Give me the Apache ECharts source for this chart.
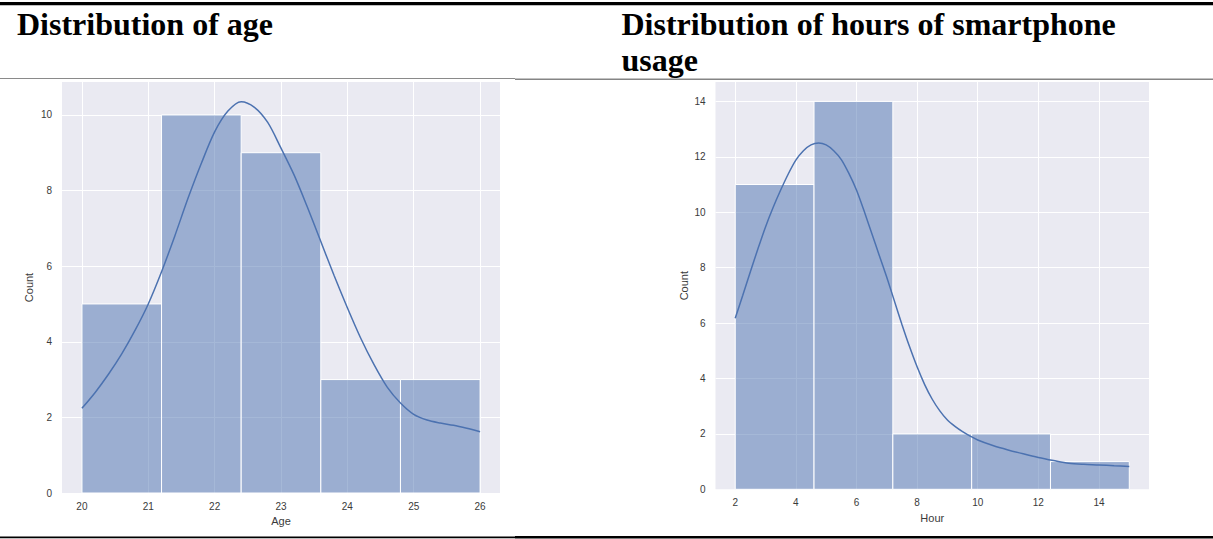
<!DOCTYPE html>
<html>
<head>
<meta charset="utf-8">
<script src="https://cdn.jsdelivr.net/npm/echarts@6/dist/echarts.min.js"></script>
<style>
html,body{margin:0;padding:0;background:#fff;}
#chart{width:1213px;height:539px;}
</style>
</head>
<body>
<div id="chart"></div>
<script>
// ---------- data ----------
const ageBinEdges = [20, 21.2, 22.4, 23.6, 24.8, 26];
const ageCounts = [5, 10, 9, 3, 3];
const ageKdeX = [20, 20.2, 20.4, 20.6, 20.8, 21, 21.2, 21.4, 21.6, 21.8, 22, 22.2, 22.4, 22.6, 22.8, 23, 23.2, 23.4, 23.6, 23.8, 24, 24.2, 24.4, 24.6, 24.8, 25, 25.2, 25.4, 25.6, 25.8, 26];
const ageKdeY = [2.24, 2.66, 3.14, 3.68, 4.3, 5.0, 5.85, 6.8, 7.8, 8.72, 9.55, 10.1, 10.35, 10.2, 9.8, 9.12, 8.4, 7.55, 6.65, 5.75, 4.9, 4.1, 3.4, 2.8, 2.38, 2.08, 1.93, 1.85, 1.79, 1.71, 1.62];

const hourBinEdges = [2, 4.6, 7.2, 9.8, 12.4, 15];
const hourCounts = [11, 14, 2, 2, 1];
const hourKdeX = [2, 2.25, 2.5, 2.75, 3, 3.25, 3.5, 3.75, 4, 4.25, 4.5, 4.75, 5, 5.25, 5.5, 5.75, 6, 6.25, 6.5, 6.75, 7, 7.25, 7.5, 7.75, 8, 8.25, 8.5, 8.75, 9, 9.25, 9.5, 9.75, 10, 10.5, 11, 11.5, 12, 12.5, 13, 13.5, 14, 14.5, 15];
const hourKdeY = [6.17, 7.0, 7.85, 8.68, 9.47, 10.17, 10.8, 11.38, 11.88, 12.22, 12.43, 12.5, 12.43, 12.22, 11.9, 11.4, 10.8, 10.05, 9.25, 8.45, 7.65, 6.8, 5.95, 5.15, 4.42, 3.78, 3.25, 2.83, 2.5, 2.27, 2.08, 1.92, 1.78, 1.58, 1.42, 1.28, 1.15, 1.04, 0.94, 0.9, 0.88, 0.85, 0.82];

const titles = ['Distribution of age', 'Distribution of hours of smartphone\nusage'];
const xNames = ['Age', 'Hour'];
const yName = 'Count';

// ---------- helpers ----------
function binData(edges, counts) {
  return counts.map((c, i) => [edges[i], edges[i + 1], c]);
}
function zip(xs, ys) { return xs.map((x, i) => [x, ys[i]]); }

const BAR_FILL = 'rgba(76,114,176,0.5)';
const LINE_COLOR = '#4C72B0';
const TICK_FONT = { color: '#3a3a3a', fontSize: 10, fontFamily: 'Liberation Sans, Arial, sans-serif' };

function renderBin(params, api) {
  const x0 = api.value(0), x1 = api.value(1), h = api.value(2);
  const p0 = api.coord([x0, h]);
  const p1 = api.coord([x1, 0]);
  return {
    type: 'rect',
    shape: { x: p0[0], y: p0[1], width: p1[0] - p0[0], height: p1[1] - p0[1] },
    style: { fill: BAR_FILL, stroke: '#ffffff', lineWidth: 1 }
  };
}

function xAxisCfg(gridIndex, min, max, split, name, nameGap) {
  return {
    type: 'value', gridIndex, min, max, splitNumber: split,
    name, nameLocation: 'middle', nameGap,
    nameTextStyle: { color: '#3a3a3a', fontSize: 11, fontFamily: 'Liberation Sans, Arial, sans-serif' },
    axisLine: { show: false }, axisTick: { show: false },
    axisLabel: Object.assign({ margin: 8, showMinLabel: false, showMaxLabel: false }, TICK_FONT),
    splitLine: { show: true, showMinLine: false, showMaxLine: false, lineStyle: { color: '#ffffff', width: 1 } }
  };
}
function yAxisCfg(gridIndex, max, split, nameGap) {
  return {
    type: 'value', gridIndex, min: 0, max, splitNumber: split,
    name: yName, nameLocation: 'middle', nameGap, nameRotate: 90,
    nameTextStyle: { color: '#3a3a3a', fontSize: 11, fontFamily: 'Liberation Sans, Arial, sans-serif' },
    axisLine: { show: false }, axisTick: { show: false },
    axisLabel: Object.assign({ margin: 10, showMaxLabel: false }, TICK_FONT),
    splitLine: { show: true, showMinLine: false, showMaxLine: false, lineStyle: { color: '#ffffff', width: 1 } }
  };
}

const chart = echarts.init(document.getElementById('chart'), null, { renderer: 'svg' });
const titleStyle = { fontFamily: 'Liberation Serif, Times New Roman, serif', fontWeight: 'bold', fontSize: 32, color: '#000', lineHeight: 36 };

chart.setOption({
  animation: false,
  backgroundColor: '#ffffff',
  title: [
    { text: titles[0], left: 17, top: 6, padding: 0, textStyle: titleStyle },
    { text: titles[1], left: 621.5, top: 6, padding: 0, textStyle: titleStyle }
  ],
  graphic: [
    { type: 'rect', shape: { x: 0, y: 2, width: 1213, height: 3.3 }, style: { fill: '#000' } },
    { type: 'rect', shape: { x: 0, y: 78, width: 515, height: 1 }, style: { fill: '#8a8a8a' } },
    { type: 'rect', shape: { x: 515, y: 78.5, width: 698, height: 1.6 }, style: { fill: '#858585' } },
    { type: 'rect', shape: { x: 0, y: 536.5, width: 515, height: 1.7 }, style: { fill: '#000' } },
    { type: 'rect', shape: { x: 515, y: 536, width: 698, height: 2.5 }, style: { fill: '#000' } }
  ],
  grid: [
    { left: 62, top: 82, width: 438, height: 411, show: true, backgroundColor: '#EAEAF2', borderWidth: 0 },
    { left: 715.5, top: 82, width: 433.5, height: 407.3, show: true, backgroundColor: '#EAEAF2', borderWidth: 0 }
  ],
  xAxis: [
    xAxisCfg(0, 19.7, 26.3, 5, xNames[0], 18),
    xAxisCfg(1, 1.35, 15.65, 7, xNames[1], 16)
  ],
  yAxis: [
    yAxisCfg(0, 10.87, 5, 28),
    yAxisCfg(1, 14.7, 7, 26)
  ],
  series: [
    { type: 'custom', xAxisIndex: 0, yAxisIndex: 0, renderItem: renderBin, encode: { x: [0, 1], y: 2 }, data: binData(ageBinEdges, ageCounts), z: 2 },
    { type: 'line', xAxisIndex: 0, yAxisIndex: 0, data: zip(ageKdeX, ageKdeY), smooth: 0.3, showSymbol: false, lineStyle: { color: LINE_COLOR, width: 1.5 }, z: 3 },
    { type: 'custom', xAxisIndex: 1, yAxisIndex: 1, renderItem: renderBin, encode: { x: [0, 1], y: 2 }, data: binData(hourBinEdges, hourCounts), z: 2 },
    { type: 'line', xAxisIndex: 1, yAxisIndex: 1, data: zip(hourKdeX, hourKdeY), smooth: 0.3, showSymbol: false, lineStyle: { color: LINE_COLOR, width: 1.5 }, z: 3 }
  ]
});
</script>
</body>
</html>
